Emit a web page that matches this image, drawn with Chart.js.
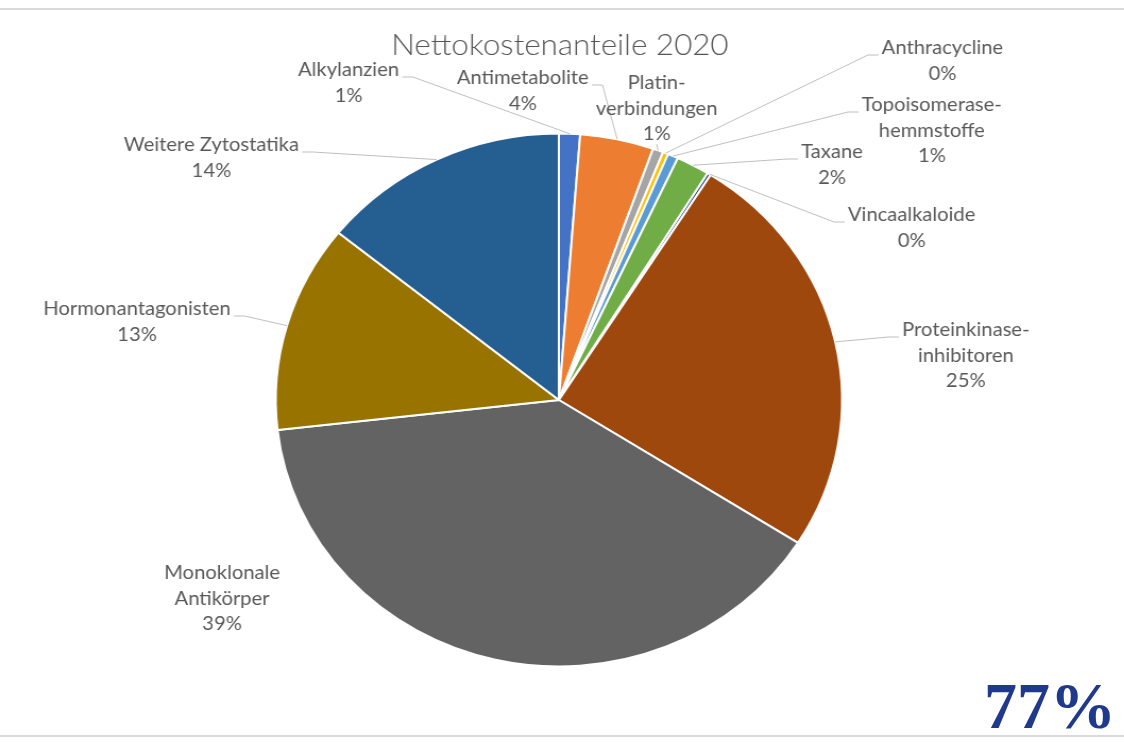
<!DOCTYPE html>
<html lang="de">
<head>
<meta charset="utf-8">
<title>Nettokostenanteile 2020</title>
<script src="https://cdn.jsdelivr.net/npm/chart.js@4/dist/chart.umd.min.js"></script>
<style>
  html, body { margin: 0; padding: 0; background: #fff; overflow: hidden; }
  #page { position: relative; width: 1124px; height: 742px; }
  .rule { position: absolute; left: 0; width: 1124px; height: 2px; background: #d9d9d9; }
  #wrap { position: absolute; left: 0; top: 0; transform: scaleX(1.0625); transform-origin: 0 0; }
  #badge {
    position: absolute; left: 984px; top: 673px;
    font: bold 66px "Liberation Serif", "Times New Roman", serif;
    color: #1f3a8c; line-height: 1;
  }
</style>
</head>
<body>
<div id="page">
  <div class="rule" style="top:8px"></div>
  <div class="rule" style="top:735px"></div>
  <div id="wrap"><canvas id="pie" width="1058" height="742"></canvas></div>
  <div id="badge">77%</div>
</div>
<script>
const categories = [
  ["Alkylanzien"],
  ["Antimetabolite"],
  ["Platin-", "verbindungen"],
  ["Anthracycline"],
  ["Topoisomerase-", "hemmstoffe"],
  ["Taxane"],
  ["Vincaalkaloide"],
  ["Proteinkinase-", "inhibitoren"],
  ["Monoklonale", "Antikörper"],
  ["Hormonantagonisten"],
  ["Weitere Zytostatika"],
];

// share of net costs in percent
const shares = [1.2, 4.2, 0.6, 0.3, 0.6, 1.9, 0.2, 25.0, 39.2, 12.6, 14.2];

const colors = [
  "#4472C4", "#ED7D31", "#A5A5A5", "#FFC000", "#5B9BD5", "#70AD47",
  "#264478", "#9E480E", "#636363", "#997300", "#255E91",
];

// where each label block sits (center of first line) and how its leader runs
const labelLayout = [
  { x: 328, y: 70, leader: "right" },
  { x: 492, y: 78, leader: "right" },
  { x: 618, y: 83, leader: "below" },
  { x: 887, y: 48, leader: "left" },
  { x: 877, y: 105, leader: "left" },
  { x: 783, y: 152, leader: "left" },
  { x: 858, y: 215, leader: "left" },
  { x: 909, y: 330, leader: "left" },
  { x: 209, y: 573, leader: null },
  { x: 129, y: 309, leader: "right" },
  { x: 199, y: 145, leader: "right" },
];

const LINE_H = 25.5;
const LABEL_FONT = "19px Lato, 'Open Sans', sans-serif";
const TITLE_FONT = "300 29.5px Lato, 'Open Sans', sans-serif";

const pieLabels = {
  id: "pieLabels",
  afterDatasetsDraw(chart) {
    const ctx = chart.ctx;
    const arcs = chart.getDatasetMeta(0).data;
    ctx.save();
    ctx.textAlign = "center";
    ctx.textBaseline = "middle";

    // title
    ctx.font = TITLE_FONT;
    ctx.fillStyle = "#555555";
    ctx.fillText("Nettokostenanteile 2020", 527, 45);

    ctx.font = LABEL_FONT;
    arcs.forEach((arc, i) => {
      const pos = labelLayout[i];
      const lines = [...categories[i], Math.round(shares[i]) + "%"];
      ctx.fillStyle = "#595959";
      lines.forEach((t, k) => ctx.fillText(t, pos.x, pos.y + k * LINE_H));
      if (!pos.leader) return;

      const mid = (arc.startAngle + arc.endAngle) / 2;
      const ax = arc.x + Math.cos(mid) * arc.outerRadius;
      const ay = arc.y + Math.sin(mid) * arc.outerRadius;
      const half = ctx.measureText(lines[0]).width / 2;

      ctx.strokeStyle = "#bfbfbf";
      ctx.lineWidth = 1;
      ctx.beginPath();
      if (pos.leader === "below") {
        ctx.moveTo(pos.x, pos.y + (lines.length - 1) * LINE_H + 10);
      } else {
        const dir = pos.leader === "right" ? 1 : -1;
        const sx = pos.x + dir * (half + 3);
        const sy = pos.y + 7;
        ctx.moveTo(sx, sy);
        ctx.lineTo(sx + dir * 10, sy);
      }
      ctx.lineTo(ax, ay);
      ctx.stroke();
    });
    ctx.restore();
  },
};

new Chart(document.getElementById("pie"), {
  type: "pie",
  data: {
    labels: categories,
    datasets: [{
      data: shares,
      backgroundColor: colors,
      borderColor: "#ffffff",
      borderWidth: 2,
    }],
  },
  options: {
    responsive: false,
    animation: false,
    events: [],
    layout: { padding: { left: 258.5, right: 264.5, top: 132.5, bottom: 74.5 } },
    plugins: {
      legend: { display: false },
      tooltip: { enabled: false },
      title: { display: false },
    },
  },
  plugins: [pieLabels],
});
</script>
</body>
</html>
